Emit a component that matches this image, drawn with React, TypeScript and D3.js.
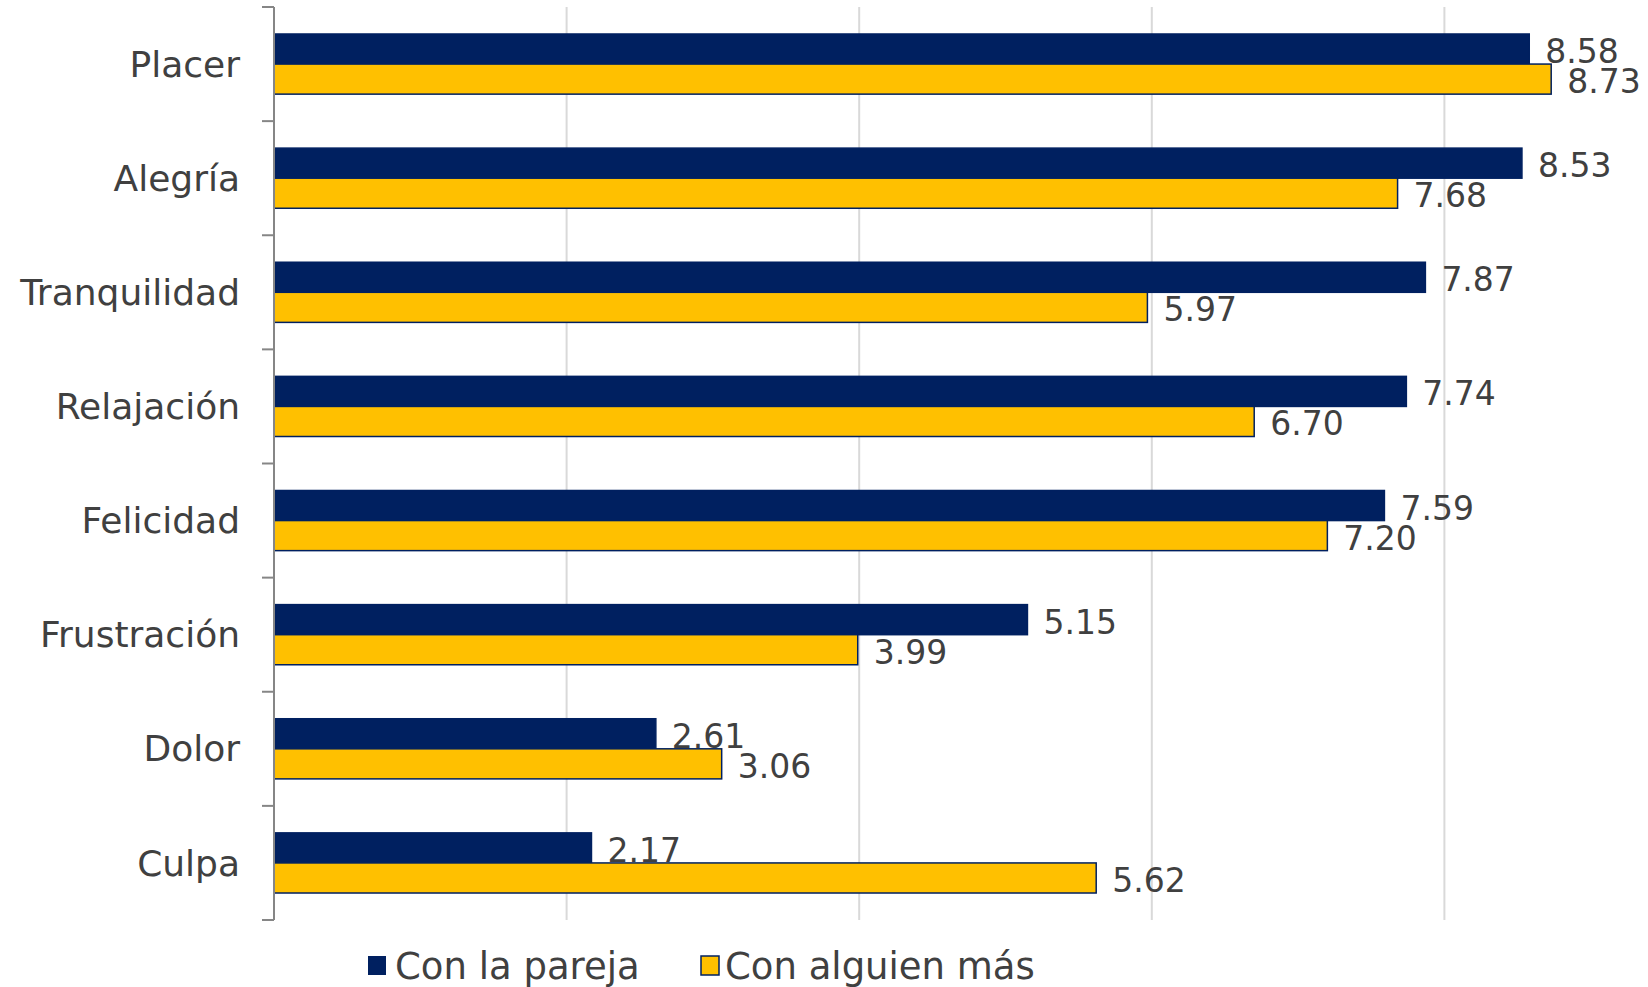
import React, { useEffect } from 'react';
import * as d3 from 'd3';

const categories = ['Placer', 'Alegría', 'Tranquilidad', 'Relajación', 'Felicidad', 'Frustración', 'Dolor', 'Culpa'];
const conLaPareja = [8.58, 8.53, 7.87, 7.74, 7.59, 5.15, 2.61, 2.17];
const conAlguienMas = [8.73, 7.68, 5.97, 6.7, 7.2, 3.99, 3.06, 5.62];
const seriesNames = ['Con la pareja', 'Con alguien más'];
const gridTicks = [2, 4, 6, 8];

const W = 1648;
const H = 987;
const FONT = "'Century Gothic', 'DejaVu Sans', sans-serif";
const TEXT = '#404040';
const NAVY = '#002060';
const GOLD = '#FFC000';

const App: React.FC = () => {
  useEffect(() => {
    document.body.style.margin = '0';
  }, []);

  const x = d3.scaleLinear().domain([0, 10]).range([274, 274 + 1463]);
  const y = d3.scaleBand<string>().domain(categories).range([7, 920]);
  const step = y.step();
  const groupH = step * 0.527;
  const inner = d3
    .scaleBand<number>()
    .domain([0, 1])
    .range([(step - groupH) / 2, (step + groupH) / 2]);
  const bh = inner.bandwidth();

  const boundaries = d3.range(categories.length + 1).map((i) => 7 + i * step);

  const series = [
    { values: conLaPareja, fill: NAVY },
    { values: conAlguienMas, fill: GOLD },
  ];

  return (
    <svg width={W} height={H} style={{ display: 'block', fontFamily: FONT }}>
      <rect width={W} height={H} fill="#fff" />
      {gridTicks.map((t) => (
        <line key={t} x1={x(t)} x2={x(t)} y1={7} y2={920} stroke="#d9d9d9" strokeWidth={2} />
      ))}

      {series.map((s, si) => (
        <g key={si}>
          {s.values.map((v, i) => {
            const y0 = (y(categories[i]) ?? 0) + (inner(si) ?? 0);
            return (
              <rect
                key={i}
                x={x(0)}
                y={y0}
                width={x(v) - x(0)}
                height={bh}
                fill={s.fill}
                stroke={NAVY}
                strokeWidth={1.5}
              />
            );
          })}
          {s.values.map((v, i) => {
            const y0 = (y(categories[i]) ?? 0) + (inner(si) ?? 0);
            return (
              <text
                key={'l' + i}
                x={x(v) + 16}
                y={y0 + bh / 2 + 14}
                fontSize={33}
                fill={TEXT}
              >
                {v.toFixed(2)}
              </text>
            );
          })}
        </g>
      ))}

      <line x1={274} x2={274} y1={7} y2={920} stroke="#868686" strokeWidth={2} />
      {boundaries.map((b, i) => (
        <line key={i} x1={262} x2={274} y1={b} y2={b} stroke="#868686" strokeWidth={2} />
      ))}

      {categories.map((c) => (
        <text
          key={c}
          x={240}
          y={(y(c) ?? 0) + step / 2}
          dy="0.35em"
          textAnchor="end"
          fontSize={36}
          fill={TEXT}
        >
          {c}
        </text>
      ))}

      <g>
        <rect x={368} y={956} width={18} height={19} fill={NAVY} />
        <text x={395} y={966} dy="0.35em" fontSize={37} fill={TEXT}>
          {seriesNames[0]}
        </text>
        <rect x={701} y={956} width={18} height={19} fill={GOLD} stroke={NAVY} strokeWidth={1.5} />
        <text x={725} y={966} dy="0.35em" fontSize={37} fill={TEXT}>
          {seriesNames[1]}
        </text>
      </g>
    </svg>
  );
};

export default App;
